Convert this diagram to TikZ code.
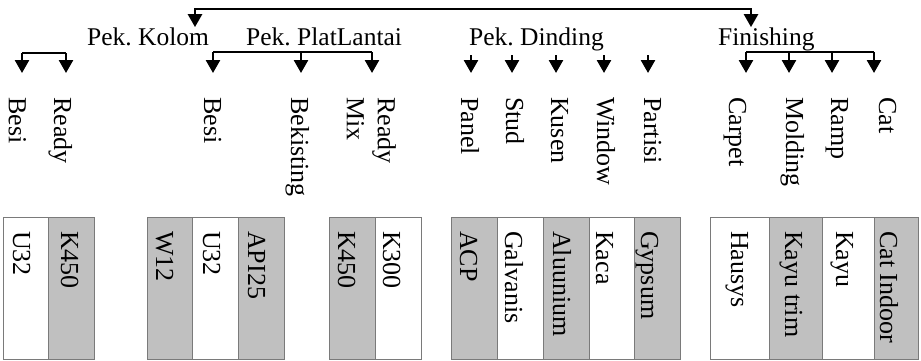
\documentclass[tikz,border=0pt]{standalone}
\usepackage{fontspec}
\setmainfont{Liberation Serif}
\usetikzlibrary{arrows.meta}
\definecolor{shade}{HTML}{C0C0C0}
\definecolor{edge}{HTML}{7A7A7A}
\frenchspacing
\begin{document}
\begin{tikzpicture}[x=1pt,y=-1pt,
  font=\fontsize{26}{31}\selectfont,
  link/.style={line width=2.6pt},
  tip/.style={line width=2.6pt,-{Triangle[width=14pt,length=13pt]}},
  tipto/.style={tip,shorten >=24pt},
  head/.style={anchor=base west,inner sep=0pt,font=\fontsize{25.5}{30}\selectfont},
  vlab/.style={rotate=-90,anchor=base west,inner sep=0pt},
  cell/.style={draw=edge,line width=1.4pt,anchor=north west,
    minimum height=142pt,inner sep=0pt},
  light/.style={cell,fill=white},
  dark/.style={cell,fill=shade}]
\useasboundingbox (0,0) rectangle (921,360);

% group headings
\node[head] (kolom) at (87,45) {Pek. Kolom};
\node[head] (plat)  at (246,45) {Pek. PlatLantai};
\node[head] (dind)  at (469,45) {Pek. Dinding};
\node[head] (fin)   at (718,45) {Finishing};

% top connector between the first and last groups
\coordinate (topL) at (195,9);
\coordinate (topR) at (751,9);
\draw[line width=2.6pt,{Triangle[width=14pt,length=13pt]}-{Triangle[width=14pt,length=13pt]}]
  (kolom.north -| topL) -- (topL) -- (topR) -- (fin.north -| topR);

% item labels
\node[vlab] (kbesi)  at (9,97)   {Besi};
\node[vlab] (kready) at (54,97)  {Ready};
\node[vlab] (pbesi)  at (204,97) {Besi};
\node[vlab] (pbek)   at (291,97) {Bekisting};
\node[rotate=-90,anchor=north west,inner sep=0pt,align=left] (pmix) at (396,97) {Ready\\Mix};
\node[vlab] (dpanel) at (461,97) {Panel};
\node[vlab] (dstud)  at (506,97) {Stud};
\node[vlab] (dkusen) at (551,97) {Kusen};
\node[vlab] (dwin)   at (597,97) {Window};
\node[vlab] (dpart)  at (644,97) {Partisi};
\node[vlab] (fcarp)  at (729,97) {Carpet};
\node[vlab] (fmold)  at (786,97) {Molding};
\node[vlab] (framp)  at (831,97) {Ramp};
\node[vlab] (fcat)   at (879,97) {Cat};

% Pek. Kolom bracket
\coordinate (k1) at (22,53);
\coordinate (k2) at (66,53);
\draw[link] (k1) -- (k2);
\draw[tipto] (k1) -- (k1 |- kbesi.west);
\draw[tipto] (k2) -- (k2 |- kready.west);

% Pek. PlatLantai bracket
\coordinate (p1) at (213,52);
\coordinate (p2) at (301,52);
\coordinate (p3) at (372,52);
\draw[link] (p1) -- (p3);
\draw[tipto] (p1) -- (p1 |- pbesi.west);
\draw[tipto] (p2) -- (p2 |- pbek.west);
\draw[tipto] (p3) -- (p3 |- pmix.north west);

% Pek. Dinding arrows
\coordinate (d1) at (471,55);
\coordinate (d2) at (512,55);
\coordinate (d3) at (556,55);
\coordinate (d4) at (604,55);
\coordinate (d5) at (648,55);
\draw[tipto] (d1) -- (d1 |- dpanel.west);
\draw[tipto] (d2) -- (d2 |- dstud.west);
\draw[tipto] (d3) -- (d3 |- dkusen.west);
\draw[tipto] (d4) -- (d4 |- dwin.west);
\draw[tipto] (d5) -- (d5 |- dpart.west);

% Finishing bracket
\coordinate (f1) at (746,52);
\coordinate (f2) at (789,52);
\coordinate (f3) at (832,52);
\coordinate (f4) at (874,52);
\draw[link] (f1) -- (f4);
\draw[tipto] (f1) -- (f1 |- fcarp.west);
\draw[tipto] (f2) -- (f2 |- fmold.west);
\draw[tipto] (f3) -- (f3 |- framp.west);
\draw[tipto] (f4) -- (f4 |- fcat.west);

% material cells
\node[light,minimum width=45pt] (m1)  at (3,217)   {};
\node[dark, minimum width=46pt] (m2)  at (48,217)  {};
\node[dark, minimum width=45pt] (m3)  at (147,217) {};
\node[light,minimum width=46pt] (m4)  at (192,217) {};
\node[dark, minimum width=46pt] (m5)  at (238,217) {};
\node[dark, minimum width=46pt] (m6)  at (329,217) {};
\node[light,minimum width=46pt] (m7)  at (375,217) {};
\node[dark, minimum width=46pt] (m8)  at (451,217) {};
\node[light,minimum width=46pt] (m9)  at (497,217) {};
\node[dark, minimum width=46pt] (m10) at (543,217) {};
\node[light,minimum width=45pt] (m11) at (589,217) {};
\node[dark, minimum width=46pt] (m12) at (634,217) {};
\node[light,minimum width=59pt] (m13) at (710,217) {};
\node[dark, minimum width=53pt] (m14) at (769,217) {};
\node[light,minimum width=52pt] (m15) at (822,217) {};
\node[dark, minimum width=44pt] (m16) at (874,217) {};

% material names
\node[vlab] (t1)  at (13,231)  {U32};
\node[vlab] (t2)  at (61,231)  {K450};
\node[vlab] (t3)  at (156,231) {W12};
\node[vlab] (t4)  at (203,231) {U32};
\node[vlab] (t5)  at (248,231) {API25};
\node[vlab] (t6)  at (338,231) {K450};
\node[vlab] (t7)  at (383,231) {K300};
\node[vlab] (t8)  at (460,231) {ACP};
\node[vlab] (t9)  at (505,231) {Galvanis};
\node[vlab] (t10) at (553,231) {Aluunium};
\node[vlab] (t11) at (596,231) {Kaca};
\node[vlab] (t12) at (641,231) {Gypsum};
\node[vlab] (t13) at (731,231) {Hausys};
\node[vlab] (t14) at (785,231) {Kayu trim};
\node[vlab] (t15) at (836,231) {Kayu};
\node[vlab] (t16) at (880,231) {Cat Indoor};
\end{tikzpicture}
\end{document}
